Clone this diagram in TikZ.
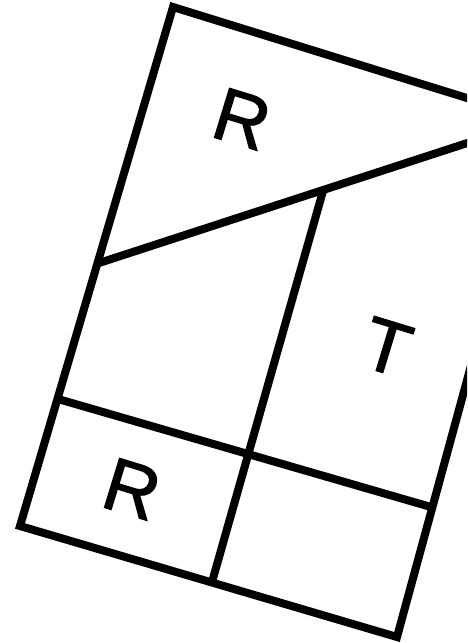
\documentclass[tikz,border=0pt]{standalone}
\usepackage{fontspec}
\setmainfont{Liberation Sans}
\newfontfamily\labfont[FakeBold=1.5]{Liberation Sans}
\begin{document}
\begin{tikzpicture}[x=1pt,y=-1pt,
  edge/.style={line width=8pt,line join=miter,line cap=butt},
  lab/.style={inner sep=0pt,rotate=-17,font=\labfont\fontsize{75}{75}\selectfont}]
\useasboundingbox (0,0) rectangle (467,643);
\clip (0,0) rectangle (467,643);
\coordinate (TL) at (173,7);
\coordinate (TR) at (538,120);
\coordinate (BR) at (397,637);
\coordinate (BL) at (20,526);
\coordinate (D) at (99,263);
\coordinate (ML) at (58,399);
\coordinate (MR) at (431,507);
\coordinate (IT) at (323,191);
\coordinate (IB) at (212,582);
\draw[edge] (TL) -- (TR) -- (BR) -- (BL) -- cycle;
\draw[edge] (D) -- (TR);
\draw[edge] (ML) -- (MR);
\draw[edge] (IT) -- (IB);
\node[lab] (r1) at (242,119) {R};
\node[lab] (r2) at (132,489) {R};
\node[lab] (t1) at (387,347) {T};
\end{tikzpicture}
\end{document}
